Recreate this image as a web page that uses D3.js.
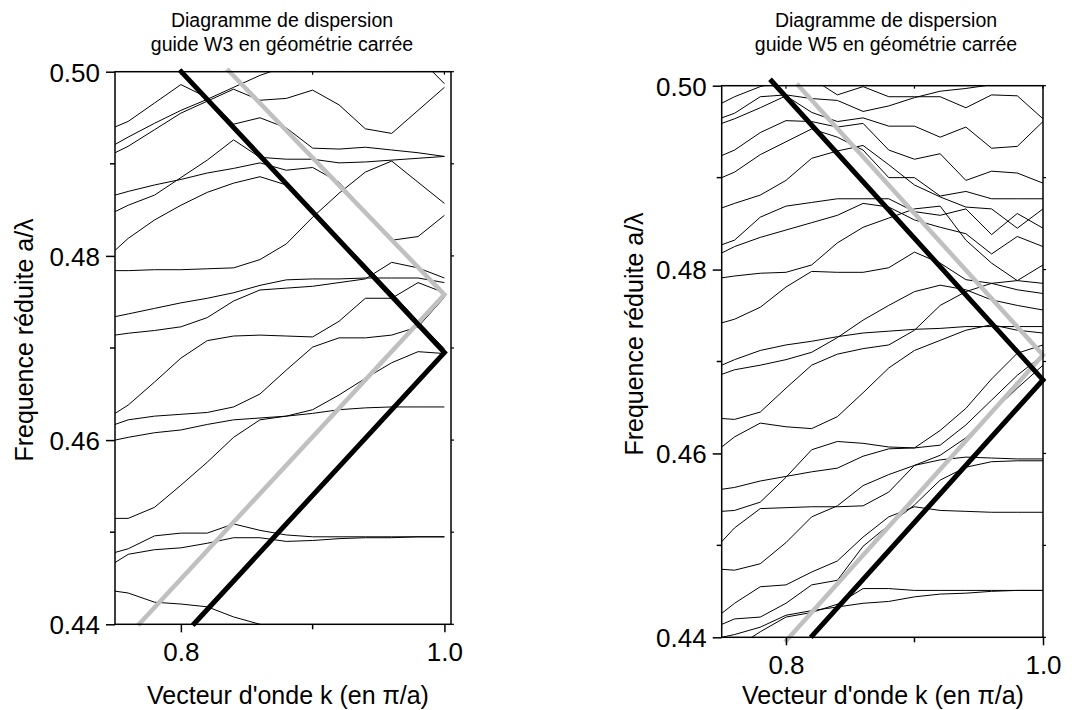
<!DOCTYPE html>
<html><head><meta charset="utf-8">
<script src="https://cdn.jsdelivr.net/npm/d3@7"></script>
<style>
body{margin:0;background:#fff}
svg text{font-family:"Liberation Sans",Arial,sans-serif;fill:#000}
</style>
</head><body>
<svg id="chart" width="1083" height="710"></svg>
<script>
// ---------- data ----------
const kValues = [0.75,0.76,0.78,0.80,0.82,0.84,0.86,0.88,0.90,0.92,0.94,0.96,0.98,1.00];
const freqMajorTicks = [0.44,0.46,0.48,0.50];
const freqMinorTicks = [0.45,0.47,0.49];
const kMajorTicks = [0.8,1.0];
const kMinorTicks = [0.9];

const titleLine1 = "Diagramme de dispersion";
const titleW3 = "guide W3 en géométrie carrée";
const titleW5 = "guide W5 en géométrie carrée";
const yLabel = "Frequence réduite a/λ";
const xLabel = "Vecteur d'onde k (en π/a)";

// W3 guide bands (reduced frequency a/λ at each k)
const w3Bands = [
 [0.4940,0.4946,0.4966,0.4986,0.4972,0.4943,0.4950,0.4939,0.4917,0.4916,0.4918,0.4915,0.4912,0.4908],
 [0.4921,0.4929,0.4944,0.4958,0.4970,0.4983,0.4996,0.5006,0.5013,0.5016,0.5018,0.5018,0.5016,0.4987],
 [0.4912,0.4919,0.4937,0.4955,0.4968,0.4981,0.4969,0.4971,0.4980,0.4964,0.4938,0.4933,0.4958,0.4983],
 [0.4866,0.4870,0.4877,0.4883,0.4890,0.4895,0.4901,0.4893,0.4896,0.4880,0.4848,0.4817,0.4821,0.4844],
 [0.4848,0.4855,0.4866,0.4885,0.4904,0.4926,0.4907,0.4905,0.4905,0.4901,0.4902,0.4904,0.4906,0.4908],
 [0.4806,0.4819,0.4839,0.4855,0.4869,0.4879,0.4886,0.4877,0.4850,0.4819,0.4790,0.4760,0.4729,0.4699],
 [0.4784,0.4784,0.4785,0.4785,0.4786,0.4787,0.4796,0.4813,0.4842,0.4868,0.4891,0.4903,0.4880,0.4857],
 [0.4734,0.4737,0.4743,0.4749,0.4754,0.4760,0.4768,0.4774,0.4775,0.4775,0.4776,0.4776,0.4776,0.4771],
 [0.4714,0.4716,0.4719,0.4723,0.4733,0.4751,0.4763,0.4765,0.4767,0.4771,0.4775,0.4793,0.4787,0.4776],
 [0.4629,0.4638,0.4663,0.4689,0.4708,0.4713,0.4714,0.4713,0.4712,0.4729,0.4754,0.4754,0.4771,0.4760],
 [0.4617,0.4622,0.4626,0.4628,0.4630,0.4636,0.4650,0.4676,0.4701,0.4711,0.4711,0.4714,0.4723,0.4755],
 [0.4600,0.4603,0.4608,0.4611,0.4617,0.4622,0.4624,0.4626,0.4629,0.4633,0.4635,0.4636,0.4636,0.4636],
 [0.4515,0.4515,0.4527,0.4551,0.4576,0.4603,0.4622,0.4626,0.4633,0.4649,0.4667,0.4684,0.4696,0.4694],
 [0.4478,0.4482,0.4496,0.4499,0.4499,0.4509,0.4502,0.4497,0.4495,0.4495,0.4495,0.4495,0.4495,0.4495],
 [0.4467,0.4476,0.4481,0.4483,0.4488,0.4494,0.4494,0.4490,0.4491,0.4493,0.4494,0.4494,0.4495,0.4495],
 [0.4436,0.4434,0.4424,0.4422,0.4419,0.4408,0.4400,0.4392,0.4383,0.4375,0.4367,0.4361,0.4356,0.4350]
];

// W5 guide bands
const w5Bands = [
 [0.4981,0.4988,0.4999,0.5006,0.5008,0.4990,0.4999,0.4988,0.4988,0.4988,0.4976,0.4990,0.4989,0.4964],
 [0.4965,0.4970,0.4988,0.4990,0.4986,0.4984,0.4972,0.4978,0.4987,0.4994,0.4997,0.5001,0.5003,0.5004],
 [0.4959,0.4964,0.4976,0.4989,0.4971,0.4961,0.4965,0.4956,0.4956,0.4944,0.4955,0.4932,0.4934,0.4961],
 [0.4924,0.4930,0.4949,0.4962,0.4961,0.4955,0.4959,0.4930,0.4920,0.4926,0.4897,0.4907,0.4905,0.4894],
 [0.4900,0.4906,0.4925,0.4939,0.4953,0.4944,0.4930,0.4900,0.4900,0.4880,0.4885,0.4877,0.4877,0.4877],
 [0.4867,0.4872,0.4881,0.4897,0.4921,0.4929,0.4935,0.4914,0.4892,0.4879,0.4868,0.4866,0.4845,0.4866],
 [0.4827,0.4832,0.4857,0.4869,0.4873,0.4877,0.4877,0.4877,0.4863,0.4859,0.4866,0.4838,0.4861,0.4845],
 [0.4818,0.4825,0.4835,0.4843,0.4851,0.4859,0.4872,0.4868,0.4854,0.4846,0.4839,0.4817,0.4836,0.4825],
 [0.4791,0.4793,0.4796,0.4797,0.4805,0.4829,0.4846,0.4856,0.4866,0.4869,0.4832,0.4807,0.4788,0.4805],
 [0.4742,0.4746,0.4759,0.4781,0.4798,0.4797,0.4797,0.4802,0.4819,0.4807,0.4789,0.4785,0.4778,0.4774],
 [0.4696,0.4702,0.4712,0.4718,0.4722,0.4727,0.4731,0.4733,0.4735,0.4736,0.4738,0.4738,0.4738,0.4738],
 [0.4686,0.4691,0.4696,0.4702,0.4710,0.4726,0.4745,0.4761,0.4776,0.4783,0.4778,0.4767,0.4761,0.4756],
 [0.4638,0.4637,0.4645,0.4671,0.4696,0.4708,0.4714,0.4718,0.4734,0.4761,0.4776,0.4785,0.4788,0.4785],
 [0.4607,0.4618,0.4633,0.4629,0.4627,0.4640,0.4666,0.4693,0.4712,0.4723,0.4734,0.4740,0.4734,0.4731],
 [0.4561,0.4563,0.4570,0.4575,0.4580,0.4584,0.4597,0.4605,0.4606,0.4625,0.4649,0.4681,0.4709,0.4718],
 [0.4537,0.4538,0.4547,0.4574,0.4604,0.4613,0.4611,0.4607,0.4606,0.4609,0.4631,0.4658,0.4685,0.4707],
 [0.4504,0.4519,0.4540,0.4541,0.4542,0.4542,0.4543,0.4558,0.4587,0.4593,0.4596,0.4595,0.4594,0.4594],
 [0.4474,0.4473,0.4480,0.4503,0.4531,0.4543,0.4565,0.4577,0.4587,0.4598,0.4617,0.4644,0.4671,0.4696],
 [0.4426,0.4437,0.4455,0.4457,0.4471,0.4483,0.4509,0.4531,0.4542,0.4538,0.4537,0.4536,0.4536,0.4536],
 [0.4414,0.4420,0.4422,0.4437,0.4457,0.4462,0.4499,0.4522,0.4544,0.4571,0.4585,0.4591,0.4592,0.4592],
 [0.4400,0.4403,0.4411,0.4424,0.4429,0.4433,0.4437,0.4439,0.4444,0.4447,0.4448,0.4450,0.4451,0.4451],
 [0.4381,0.4388,0.4406,0.4422,0.4427,0.4436,0.4453,0.4453,0.4451,0.4451,0.4451,0.4451,0.4451,0.4451]
];

// folded light lines (k, frequency) for each guide
const w3BlackK = [0.799,1.000,0.809];
const w3BlackF = [0.5002,0.4695,0.4399];
const w3GrayK  = [0.835,1.000,0.7675];
const w3GrayF  = [0.5003,0.4758,0.4399];
const w5BlackK = [0.7876,1.000,0.8193];
const w5BlackF = [0.5007,0.4680,0.4400];
const w5GrayK  = [0.8084,1.000,0.7993];
const w5GrayF  = [0.5002,0.4707,0.4395];

// ---------- drawing ----------
const svg = d3.select("#chart");
const FONT = '"Liberation Sans",Arial,sans-serif';

function drawPanel(p) {
  const x = d3.scaleLinear().domain(p.kDomain).range([p.left, p.right]);
  const y = d3.scaleLinear().domain([0.44, 0.50]).range([p.bottom, p.top]);
  const g = svg.append("g");
  const clipId = "clip" + p.id;
  svg.append("defs").append("clipPath").attr("id", clipId)
    .append("rect").attr("x", p.left).attr("y", p.top)
    .attr("width", p.right - p.left).attr("height", p.bottom - p.top);

  const line = d3.line().x((d, i) => x(kValues[i])).y(d => y(d));
  g.append("g").attr("clip-path", `url(#${clipId})`)
    .selectAll("path").data(p.bands).join("path")
    .attr("d", line).attr("fill", "none").attr("stroke", "#000")
    .attr("stroke-width", 1).attr("stroke-linejoin", "round");

  const light = d3.line().x(d => x(d[0])).y(d => y(d[1]));
  g.append("path").datum(d3.zip(p.grayK, p.grayF)).attr("d", light)
    .attr("fill", "none").attr("stroke", "#c0c0c0").attr("stroke-width", 4.5)
    .attr("stroke-linejoin", "miter");
  g.append("path").datum(d3.zip(p.blackK, p.blackF)).attr("d", light)
    .attr("fill", "none").attr("stroke", "#000").attr("stroke-width", 5)
    .attr("stroke-linejoin", "miter");

  // frame
  g.append("rect").attr("x", p.left).attr("y", p.top)
    .attr("width", p.right - p.left).attr("height", p.bottom - p.top)
    .attr("fill", "none").attr("stroke", "#000").attr("stroke-width", 1.5);

  // y axis (left) ticks
  const yAxis = d3.axisLeft(y).tickValues(freqMajorTicks).tickSize(9).tickPadding(6)
    .tickFormat(d3.format(".2f"));
  const ya = g.append("g").attr("transform", `translate(${p.left},0)`).call(yAxis);
  ya.select(".domain").remove();
  ya.selectAll("line").attr("stroke-width", 1.5);
  ya.selectAll("text").attr("font-size", 26).attr("font-family", FONT).attr("dy", "0.36em");
  g.append("g").selectAll("line").data(freqMinorTicks).join("line")
    .attr("x1", p.left - 5).attr("x2", p.left).attr("y1", d => y(d)).attr("y2", d => y(d))
    .attr("stroke", "#000").attr("stroke-width", 1.5);
  // right side ticks
  g.append("g").selectAll("line").data(freqMajorTicks.concat(freqMinorTicks)).join("line")
    .attr("x1", p.right).attr("x2", p.right + 3).attr("y1", d => y(d)).attr("y2", d => y(d))
    .attr("stroke", "#000").attr("stroke-width", 1.2);

  // x axis ticks
  const xAxis = d3.axisBottom(x).tickValues(kMajorTicks).tickSize(8).tickPadding(10)
    .tickFormat(d3.format(".1f"));
  const xa = g.append("g").attr("transform", `translate(0,${p.bottom})`).call(xAxis);
  xa.select(".domain").remove();
  xa.selectAll("line").attr("stroke-width", 1.5);
  xa.selectAll("text").attr("font-size", 26).attr("font-family", FONT);
  g.append("g").selectAll("line").data(kMinorTicks).join("line")
    .attr("x1", d => x(d)).attr("x2", d => x(d)).attr("y1", p.bottom).attr("y2", p.bottom + 5)
    .attr("stroke", "#000").attr("stroke-width", 1.5);
  // top ticks
  g.append("g").selectAll("line").data(kMajorTicks.concat(kMinorTicks)).join("line")
    .attr("x1", d => x(d)).attr("x2", d => x(d)).attr("y1", p.top).attr("y2", p.top + 3)
    .attr("stroke", "#000").attr("stroke-width", 1.2);

  // titles
  g.append("text").attr("x", p.titleX).attr("y", 27).attr("text-anchor", "middle")
    .attr("font-size", 19.5).text(titleLine1);
  g.append("text").attr("x", p.titleX).attr("y", 51).attr("text-anchor", "middle")
    .attr("font-size", 19.5).text(p.title2);
  // axis labels
  g.append("text").attr("x", p.xLabelX).attr("y", 704).attr("text-anchor", "middle")
    .attr("font-size", 25).text(xLabel);
  g.append("text").attr("transform", `translate(${p.yLabelX},${p.yLabelY}) rotate(-90)`)
    .attr("text-anchor", "middle").attr("font-size", 25).text(yLabel);
}

drawPanel({id: "w3", left: 115, right: 451, top: 71.7, bottom: 624.3, kDomain: [0.75, 1.005],
  bands: w3Bands, blackK: w3BlackK, blackF: w3BlackF, grayK: w3GrayK, grayF: w3GrayF,
  title2: titleW3, titleX: 282, xLabelX: 288, yLabelX: 33, yLabelY: 340});
drawPanel({id: "w5", left: 721.7, right: 1043, top: 85.7, bottom: 637.3, kDomain: [0.75, 1.0],
  bands: w5Bands, blackK: w5BlackK, blackF: w5BlackF, grayK: w5GrayK, grayF: w5GrayF,
  title2: titleW5, titleX: 886, xLabelX: 883, yLabelX: 643, yLabelY: 334});
</script>
</body></html>
